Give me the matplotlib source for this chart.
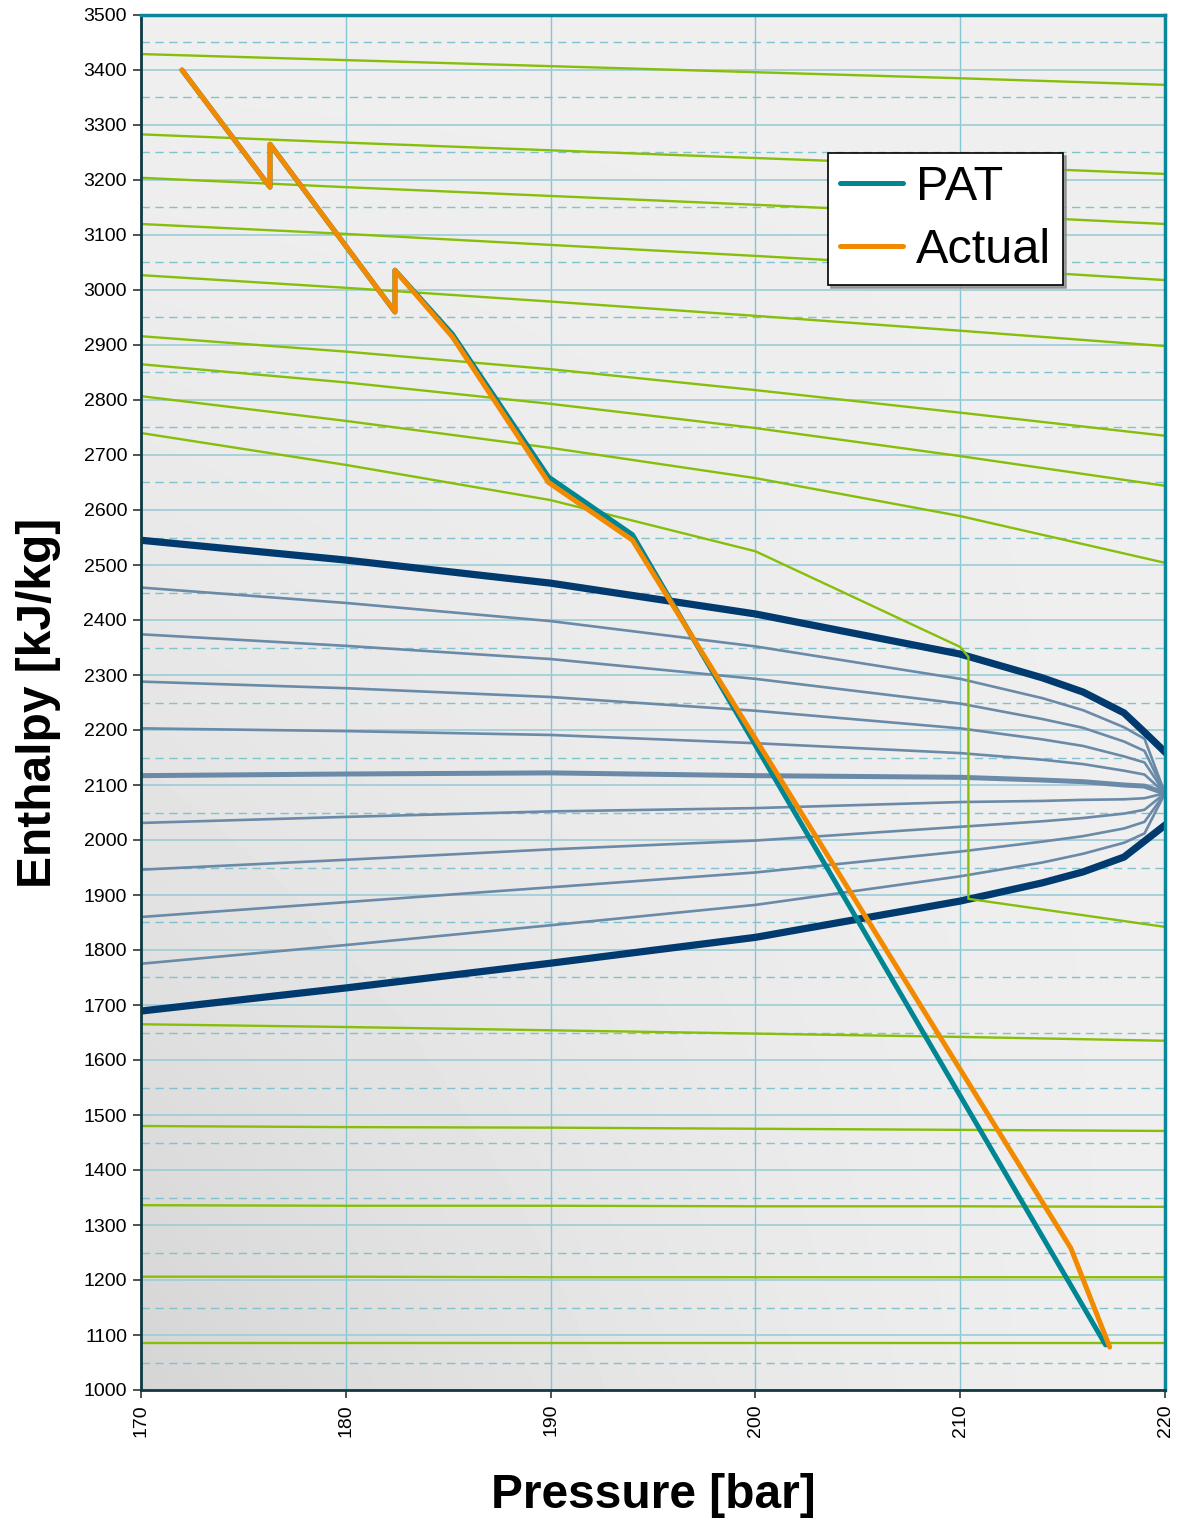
import numpy as np
import matplotlib
matplotlib.use('Agg')
import matplotlib.pyplot as plt
from matplotlib.ticker import MultipleLocator

plt.rcParams['font.family'] = ['Liberation Sans', 'DejaVu Sans']

# process paths (pressure [bar], enthalpy [kJ/kg])
pat_p = [172.0, 176.3, 176.3, 182.4, 182.4, 185.2, 189.9, 194.0, 217.1]
pat_h = [3400, 3187, 3265, 2960, 3036, 2920, 2660, 2555, 1082]
act_p = [172.0, 176.3, 176.3, 182.4, 182.4, 185.2, 189.9, 194.0, 215.4, 217.3]
act_h = [3400, 3187, 3265, 2960, 3036, 2915, 2650, 2545, 1258, 1078]

# isotherms (green)
iso_p = [170, 180, 190, 200, 210, 220]
iso_h = [
    [3429, 3418, 3407, 3396, 3385, 3373],
    [3283, 3268, 3254, 3240, 3226, 3211],
    [3204, 3187, 3171, 3155, 3138, 3120],
    [3120, 3102, 3082, 3062, 3041, 3018],
    [3027, 3004, 2979, 2953, 2926, 2898],
    [2916, 2888, 2856, 2818, 2777, 2735],
    [2865, 2832, 2793, 2749, 2698, 2644],
    [2807, 2762, 2713, 2658, 2589, 2504],
    [1665, 1660, 1654, 1648, 1642, 1635],
    [1480, 1478, 1477, 1475, 1473, 1471],
    [1336, 1335, 1335, 1334, 1334, 1333],
    [1206, 1206, 1205, 1205, 1205, 1205],
    [1085, 1085, 1085, 1085, 1085, 1085],
]
iso_cross_p = [170, 180, 190, 200, 210, 210.4, 210.4, 220]
iso_cross_h = [2740, 2682, 2618, 2525, 2351, 2333, 1893, 1842]

# saturation dome
sat_p = [170, 180, 190, 200, 210, 214, 216, 218, 219, 220]
sat_vap = [2545, 2509, 2467, 2411, 2338, 2295, 2269, 2231, 2196, 2160]
sat_liq = [1689, 1731, 1776, 1823, 1889, 1922, 1942, 1969, 1998, 2027]

# constant quality lines x = 0.1 ... 0.9
qual_h = [
    [1775, 1809, 1845, 1882, 1934, 1959, 1975, 1995, 2012, 2085],
    [1860, 1887, 1914, 1941, 1979, 1997, 2007, 2021, 2033, 2085],
    [1946, 1964, 1983, 1999, 2024, 2034, 2040, 2048, 2055, 2085],
    [2031, 2042, 2052, 2058, 2069, 2071, 2073, 2074, 2076, 2085],
    [2117, 2120, 2122, 2117, 2114, 2109, 2106, 2100, 2098, 2085],
    [2203, 2198, 2191, 2176, 2158, 2146, 2138, 2126, 2119, 2085],
    [2288, 2276, 2260, 2235, 2203, 2183, 2171, 2152, 2141, 2085],
    [2374, 2353, 2329, 2293, 2248, 2220, 2204, 2179, 2162, 2085],
    [2459, 2431, 2398, 2352, 2293, 2258, 2236, 2205, 2184, 2085],
]

GREEN = '#86BE0A'
NAVY = '#003A6E'
STEEL = '#6A8AA8'
TEAL = '#008593'
ORANGE = '#F28A00'

fig = plt.figure(figsize=(11.8, 15.19), dpi=100)
ax = fig.add_axes([141/1180, 1 - 1390/1519, 1024/1180, 1375/1519])

# gradient background, darker in the lower left corner
u = np.linspace(0, 1, 200)
v = np.linspace(0, 1, 200)
U, V = np.meshgrid(u, v)
t = 1 - (1 - U) ** 1.5 * (1 - V) ** 1.5
bg = 0.835 + 0.10 * t
ax.imshow(bg, extent=[170, 220, 1000, 3500], origin='lower', aspect='auto',
          cmap='gray', vmin=0, vmax=1, zorder=0, interpolation='bilinear')

ax.set_xlim(170, 220)
ax.set_ylim(1000, 3500)
ax.xaxis.set_major_locator(MultipleLocator(10))
ax.yaxis.set_major_locator(MultipleLocator(100))
ax.yaxis.set_minor_locator(MultipleLocator(50))
ax.set_axisbelow(True)
ax.grid(True, which='major', axis='x', color='#86C6D2', lw=1)
ax.grid(True, which='major', axis='y', color='#9CCCD5', lw=1.2)
ax.grid(True, which='minor', axis='y', color='#80C2CE', lw=1, dashes=(6, 4))

for qi, qh in enumerate(qual_h):
    ax.plot(sat_p, qh, color=STEEL, lw=3.6 if qi == 4 else 1.9, zorder=2,
            solid_joinstyle='round')
ax.plot(sat_p, sat_vap, color=NAVY, lw=5.2, zorder=2.2)
ax.plot(sat_p, sat_liq, color=NAVY, lw=5.2, zorder=2.2)

for h in iso_h:
    ax.plot(iso_p, h, color=GREEN, lw=1.7, zorder=2.4)
ax.plot(iso_cross_p, iso_cross_h, color=GREEN, lw=1.7, zorder=2.4)

ax.plot(pat_p, pat_h, color=TEAL, lw=3.6, zorder=3, label='PAT',
        solid_capstyle='round', solid_joinstyle='round')
ax.plot(act_p, act_h, color=ORANGE, lw=3.6, zorder=3.1, label='Actual',
        solid_capstyle='round', solid_joinstyle='round')

for s in ['left', 'bottom']:
    ax.spines[s].set_color('#0F3A42')
    ax.spines[s].set_linewidth(2)
for s in ['top', 'right']:
    ax.spines[s].set_color('#0A879A')
    ax.spines[s].set_linewidth(2.5)
for s in ax.spines.values():
    s.set_zorder(4)

ax.tick_params(axis='both', which='major', direction='out', length=6,
               width=1.2, color='#333333', labelsize=14, pad=4)
ax.tick_params(axis='y', which='minor', length=0)
plt.setp(ax.get_xticklabels(), rotation=90)

ax.set_xlabel('Pressure [bar]', fontsize=34.5, fontweight='bold', labelpad=26)
ax.set_ylabel('Enthalpy [kJ/kg]', fontsize=34.5, fontweight='bold', labelpad=16)

leg = ax.legend(loc='upper left', bbox_to_anchor=(828/1180, 1 - 153/1519),
                bbox_transform=fig.transFigure, fontsize=35, frameon=True,
                fancybox=False, edgecolor='black', framealpha=1,
                borderpad=0.25, labelspacing=0.37, handlelength=1.3,
                handletextpad=0.25, borderaxespad=0,
                shadow={'ox': 2, 'oy': -2, 'color': '0.55', 'alpha': 0.8})
leg.get_frame().set_linewidth(1.2)
leg.set_zorder(5)

fig.savefig('out.png', dpi=100)
